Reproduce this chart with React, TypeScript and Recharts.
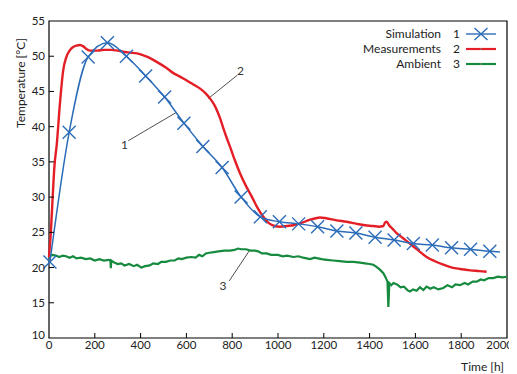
import React from 'react';
import { LineChart, Line, XAxis, YAxis, ReferenceArea, ReferenceLine, ReferenceDot } from 'recharts';

// ---- data ----
const xTicks = [0, 200, 400, 600, 800, 1000, 1200, 1400, 1600, 1800, 2000];
const yTicks = [10, 15, 20, 25, 30, 35, 40, 45, 50, 55];

const seriesNames = ['Simulation', 'Measurements', 'Ambient'];
const seriesNumbers = ['1', '2', '3'];
const seriesColors = ['#2b6cb8', '#e41e26', '#168a3e'];

// Simulation (m = marker drawn)
const simHours = [4, 88, 171, 255, 338, 422, 505, 589, 672, 756, 839, 923, 1006, 1090, 1173, 1257, 1340, 1424, 1507, 1591, 1674, 1758, 1841, 1925, 1969];
const simTemps = [20.8, 39.2, 49.9, 51.9, 50.0, 47.2, 44.2, 40.5, 37.2, 34.2, 30.0, 27.2, 26.5, 26.2, 25.8, 25.2, 24.9, 24.3, 23.9, 23.4, 23.2, 22.8, 22.6, 22.3, 22.2];
const simMarkers = [1, 1, 1, 1, 1, 1, 1, 1, 1, 1, 1, 1, 1, 1, 1, 1, 1, 1, 1, 1, 1, 1, 1, 1, 0];

const measHours = [0, 8, 16, 24, 34, 48, 62, 75, 90, 106, 120, 135, 150, 165, 180, 210, 240, 270, 300, 330, 360, 397, 430, 470, 510, 543, 572, 600, 630, 660, 685, 703, 720, 735, 747, 760, 775, 790, 812, 834, 860, 885, 910, 936, 960, 985, 1009, 1040, 1067, 1100, 1140, 1165, 1183, 1210, 1256, 1300, 1344, 1380, 1416, 1440, 1460, 1468, 1475, 1485, 1500, 1518, 1545, 1576, 1610, 1649, 1685, 1722, 1760, 1795, 1840, 1880, 1911];
const measTemps = [21.5, 25, 30, 34.5, 37.5, 43.4, 48, 49.8, 50.8, 51.3, 51.5, 51.6, 51.4, 51.0, 50.8, 50.8, 50.9, 50.9, 50.8, 50.6, 50.5, 50.3, 49.9, 49.2, 48.4, 47.6, 47.1, 46.6, 46.0, 45.4, 44.7, 44.0, 43.2, 42.2, 41.2, 39.9, 38.5, 37.2, 35.2, 33.4, 31.6, 30.1, 28.5, 27.2, 26.3, 25.9, 25.8, 25.9, 26.0, 26.3, 26.8, 27.0, 27.1, 27.0, 26.7, 26.5, 26.2, 26.0, 25.9, 25.8, 25.9, 26.4, 26.5, 26.0, 25.5, 24.9, 24.2, 23.4, 22.5, 21.5, 20.9, 20.4, 20.0, 19.8, 19.6, 19.5, 19.4];

const ambHours = [0, 15, 30, 45, 60, 75, 90, 105, 120, 140, 160, 180, 200, 220, 240, 260, 268, 270, 272, 285, 300, 315, 330, 350, 370, 385, 403, 420, 440, 455, 476, 490, 510, 530, 549, 565, 580, 600, 621, 640, 655, 670, 685, 700, 720, 740, 767, 790, 810, 825, 840, 860, 880, 900, 913, 930, 950, 970, 1000, 1020, 1040, 1067, 1090, 1110, 1140, 1160, 1190, 1213, 1240, 1270, 1300, 1330, 1358, 1380, 1400, 1416, 1430, 1445, 1460, 1470, 1478, 1482, 1486, 1495, 1504, 1520, 1535, 1550, 1565, 1576, 1590, 1605, 1620, 1635, 1649, 1665, 1680, 1700, 1722, 1740, 1760, 1775, 1795, 1815, 1830, 1850, 1868, 1885, 1900, 1920, 1940, 1960, 1980, 2000];
const ambTemps = [21.6, 21.8, 21.7, 21.5, 21.7, 21.6, 21.4, 21.6, 21.3, 21.4, 21.2, 21.3, 21.0, 21.2, 21.0, 21.1, 21.0, 19.9, 21.0, 20.7, 20.5, 20.6, 20.3, 20.5, 20.2, 20.4, 20.0, 20.2, 20.3, 20.6, 20.5, 20.8, 20.8, 21.0, 21.0, 21.3, 21.2, 21.4, 21.5, 21.4, 21.8, 21.6, 22.0, 22.1, 22.2, 22.3, 22.4, 22.4, 22.5, 22.7, 22.6, 22.6, 22.4, 22.4, 22.3, 22.0, 22.0, 21.8, 21.8, 21.6, 21.7, 21.5, 21.6, 21.4, 21.2, 21.4, 21.2, 21.1, 21.0, 20.9, 20.8, 20.8, 20.7, 20.6, 20.5, 20.4, 20.1, 19.7, 19.2, 18.6, 18.0, 14.4, 17.8, 17.5, 17.8, 17.6, 17.2, 17.3, 16.8, 16.6, 16.9, 16.7, 17.2, 16.8, 17.3, 17.0, 17.2, 16.9, 17.1, 17.5, 17.2, 17.6, 17.5, 17.8, 17.6, 18.0, 18.0, 18.3, 18.2, 18.5, 18.5, 18.7, 18.6, 18.7];

// annotation leader lines: [label, labelX, labelY, fromX, fromY, toX, toY]
const annotations: [string, number, number, number, number, number, number][] = [
  ['1', 330, 37.5, 346, 38.0, 555, 42.0],
  ['2', 836, 48.0, 822, 47.3, 696, 44.0],
  ['3', 760, 17.4, 787, 18.1, 875, 22.4],
];

const simData = simHours.map((h, i) => ({ h, T: simTemps[i], m: simMarkers[i] }));
const measData = measHours.map((h, i) => ({ h, T: measTemps[i] }));
const ambData = ambHours.map((h, i) => ({ h, T: ambTemps[i] }));

const FONT = 'Lato, "Noto Sans", sans-serif';
const TICK_FS = 11.5;

const XTick = (props: any) => {
  const { x, y, payload } = props;
  const last = payload.value === 2000;
  return (
    <g>
      {payload.value !== 0 && !last ? (
        <line x1={x} x2={x} y1={y} y2={y - 5} stroke="#000" strokeWidth={1} />
      ) : null}
      <text x={last ? x + 6 : x} y={y + 3} dy="0.71em" textAnchor={last ? 'end' : 'middle'} fontSize={TICK_FS} fontFamily={FONT} fill="#222">
        {payload.value}
      </text>
    </g>
  );
};

const YTick = (props: any) => {
  const { x, y, payload } = props;
  return (
    <g>
      {payload.value !== 10 && payload.value !== 55 ? (
        <line x1={x} x2={x + 5} y1={y} y2={y} stroke="#000" strokeWidth={1} />
      ) : null}
      <text x={x - 4} y={payload.value === 10 ? y - 3 : y} dy="0.35em" textAnchor="end" fontSize={TICK_FS} fontFamily={FONT} fill="#222">
        {payload.value}
      </text>
    </g>
  );
};

const XMark = (props: any) => {
  const { cx, cy, payload, index } = props;
  if (!payload || !payload.m || cx == null || cy == null) return <g key={`d${index}`} />;
  const s = 6.5;
  return (
    <g key={`d${index}`} stroke={seriesColors[0]} strokeWidth={1.4}>
      <line x1={cx - s} y1={cy - s} x2={cx + s} y2={cy + s} />
      <line x1={cx - s} y1={cy + s} x2={cx + s} y2={cy - s} />
    </g>
  );
};

const LegendSample = ({ i }: { i: number }) => (
  <svg width={30} height={14} style={{ display: 'block' }}>
    <line x1={0} y1={7} x2={30} y2={7} stroke={seriesColors[i]} strokeWidth={i === 0 ? 1.4 : 2.2} />
    {i === 0 ? (
      <g stroke={seriesColors[0]} strokeWidth={1.4}>
        <line x1={8.5} y1={1} x2={21.5} y2={13} />
        <line x1={8.5} y1={13} x2={21.5} y2={1} />
      </g>
    ) : (
      <line x1={15} y1={6} x2={15} y2={8} stroke="#888" strokeWidth={1} />
    )}
  </svg>
);

export default function App() {
  return (
    <div style={{ position: 'relative', width: 509, height: 366 }}>
      <LineChart width={509} height={366} data={measData} margin={{ top: 13, right: 10, bottom: 0, left: 0 }}>
        <XAxis
          type="number"
          dataKey="h"
          domain={[0, 2000]}
          ticks={xTicks}
          interval={0}
          tickSize={0}
          tickMargin={0}
          tick={<XTick />}
          axisLine={false}
          height={36}
          label={{ value: 'Time [h]', position: 'insideBottomRight', offset: 3, fontSize: 12, fontFamily: FONT, fill: '#222' }}
        />
        <YAxis
          type="number"
          domain={[10, 55]}
          ticks={yTicks}
          interval={0}
          tickSize={0}
          tickMargin={0}
          tick={<YTick />}
          axisLine={false}
          width={41}
          label={(p: any) => {
            const vb = p.viewBox || {};
            const cx = (vb.x ?? 0) + 12;
            const cy = (vb.y ?? 13) + 62;
            return (
              <text x={cx} y={cy} transform={`rotate(-90 ${cx} ${cy})`} textAnchor="middle" dominantBaseline="central" fontSize={12} fontFamily={FONT} fill="#222">
                Temperature [°C]
              </text>
            );
          }}
        />
        <ReferenceArea x1={0} x2={2000} y1={10} y2={55} fill="none" stroke="#000" strokeWidth={1.2} ifOverflow="visible" />
        {annotations.map((a, i) => (
          <ReferenceLine
            key={`al${i}`}
            segment={[{ x: a[3], y: a[4] }, { x: a[5], y: a[6] }]}
            stroke="#222"
            strokeWidth={0.8}
          />
        ))}
        {annotations.map((a, i) => (
          <ReferenceDot
            key={`ad${i}`}
            x={a[1]}
            y={a[2]}
            r={0}
            fill="none"
            stroke="none"
            label={{ value: a[0], position: 'center', fontSize: 12, fontFamily: FONT, fill: '#333' }}
          />
        ))}
        <Line data={ambData} dataKey="T" type="linear" stroke={seriesColors[2]} strokeWidth={2.2} dot={false} isAnimationActive={false} />
        <Line data={measData} dataKey="T" type="monotone" stroke={seriesColors[1]} strokeWidth={2.4} dot={false} isAnimationActive={false} />
        <Line data={simData} dataKey="T" type="monotone" stroke={seriesColors[0]} strokeWidth={1.5} dot={XMark} activeDot={false} isAnimationActive={false} />
      </LineChart>
      <div style={{ position: 'absolute', top: 18, right: 21, fontFamily: FONT, fontSize: 12, color: '#222' }}>
        {seriesNames.map((n, i) => (
          <div key={n} style={{ display: 'flex', justifyContent: 'flex-end', alignItems: 'center', height: 15 }}>
            <span>{n}</span>
            <span style={{ marginLeft: 12, marginRight: 6 }}>{seriesNumbers[i]}</span>
            <LegendSample i={i} />
          </div>
        ))}
      </div>
    </div>
  );
}
